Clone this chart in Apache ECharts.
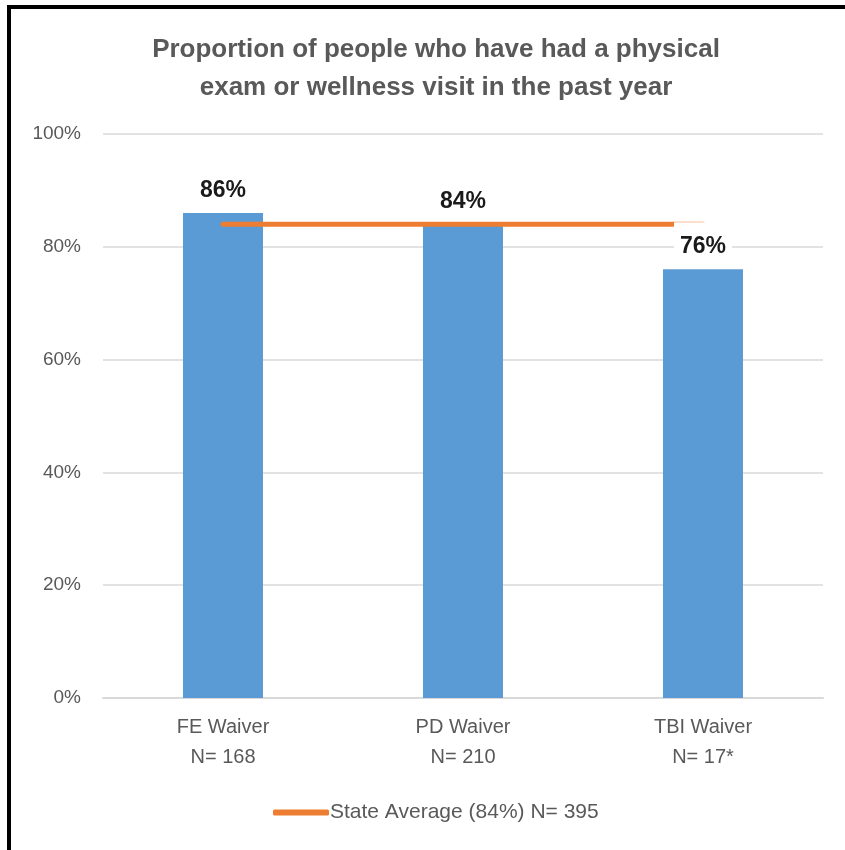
<!DOCTYPE html>
<html>
<head>
<meta charset="utf-8">
<script src="https://cdn.jsdelivr.net/npm/echarts@6/dist/echarts.min.js"></script>
<style>
html,body{margin:0;padding:0;background:#fff;}
#c{width:845px;height:850px;}
</style>
</head>
<body>
<div id="c"></div>
<script>
const categories = ['FE Waiver\nN= 168', 'PD Waiver\nN= 210', 'TBI Waiver\nN= 17*'];
const waiverValues = [86, 84, 76];
const stateAverage = [84, 84, 84];
const stateName = 'State Average (84%) N= 395';
const yTicks = [0, 20, 40, 60, 80, 100];

const FONT = '"Liberation Sans", Arial, sans-serif';
const chart = echarts.init(document.getElementById('c'));
chart.setOption({
  animation: false,
  backgroundColor: '#fff',
  title: {
    text: 'Proportion of people who have had a physical\nexam or wellness visit in the past year',
    left: 431, top: 26, textAlign: 'center',
    textStyle: { fontFamily: FONT, fontSize: 26, fontWeight: 'bold', color: '#595959', lineHeight: 38 }
  },
  graphic: [
    { type: 'rect', shape: { x: 7, y: 5, width: 4, height: 850 }, style: { fill: '#000' } },
    { type: 'rect', shape: { x: 7, y: 5, width: 845, height: 4 }, style: { fill: '#000' } }
  ],
  legend: {
    data: [stateName],
    top: 797, left: 268,
    icon: 'roundRect', itemWidth: 56, itemHeight: 6, itemGap: 10,
    textStyle: { fontFamily: FONT, fontSize: 21, color: '#595959', padding: [0,0,0,-4] }
  },
  grid: { left: 103, right: 22, top: 134, bottom: 152 },
  xAxis: {
    type: 'category', data: categories,
    axisLine: { lineStyle: { color: '#d9d9d9', width: 2 } },
    axisTick: { show: false },
    axisLabel: { fontFamily: FONT, fontSize: 20, color: '#595959', lineHeight: 30, margin: 14 }
  },
  yAxis: {
    type: 'value', min: yTicks[0], max: yTicks[yTicks.length - 1], interval: 20,
    axisLine: { show: false }, axisTick: { show: false },
    splitLine: { lineStyle: { color: '#d9d9d9', width: 1.5 } },
    axisLabel: { fontFamily: FONT, fontSize: 19, color: '#595959', margin: 22, formatter: v => v + '%' }
  },
  series: [
    {
      name: 'Waiver', type: 'bar', data: waiverValues, barWidth: 80, z: 2,
      itemStyle: { color: '#5b9bd5' }
    },
    {
      name: stateName, type: 'line', data: stateAverage, z: 3,
      symbol: 'none', showSymbol: false,
      lineStyle: { color: '#ed7d31', width: 5, cap: 'round' },
      itemStyle: { color: '#ed7d31' }
    },
    {
      name: 'labels', type: 'bar', data: waiverValues, z: 5, barWidth: 80, barGap: '-100%',
      itemStyle: { color: 'rgba(0,0,0,0)' }, silent: true,
      label: {
        show: true, position: 'top', distance: 8,
        formatter: p => p.value + '%',
        fontFamily: FONT, fontSize: 23, fontWeight: 'bold', color: '#1a1a1a',
        backgroundColor: '#fff', padding: [13, 6, 3, 6]
      }
    }
  ]
});
</script>
</body>
</html>
